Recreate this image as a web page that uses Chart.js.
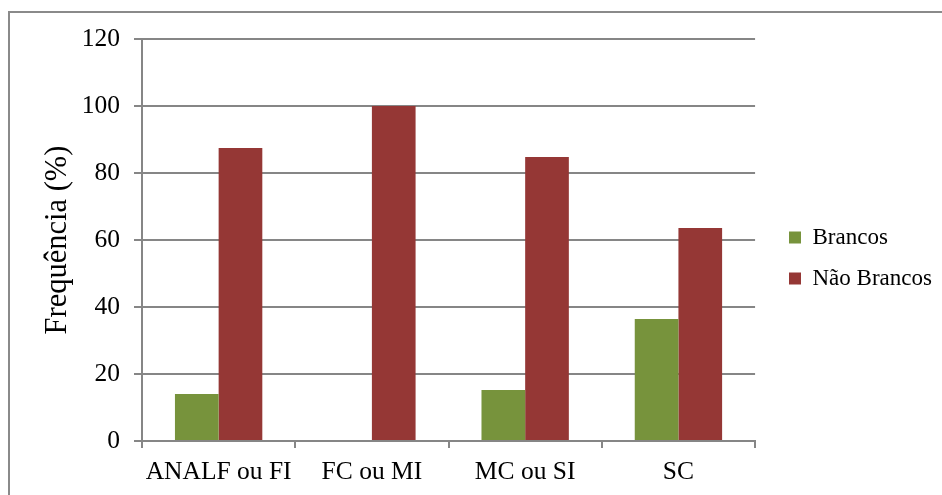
<!DOCTYPE html>
<html>
<head>
<meta charset="utf-8">
<script src="https://cdn.jsdelivr.net/npm/chart.js@4"></script>
<style>
  html, body { margin: 0; padding: 0; background: #fff; overflow: hidden; }
  #wrap { position: relative; width: 942px; height: 495px; }
  #frame { position: absolute; left: 8px; top: 11px; width: 960px; height: 520px; border: 2px solid #8a8a8a; box-sizing: border-box; }
  canvas { position: absolute; left: 0; top: 0; }
</style>
</head>
<body>
<div id="wrap">
  <div id="frame"></div>
  <canvas id="chart" width="942" height="495"></canvas>
</div>
<script>
const categories = ['ANALF ou FI', 'FC ou MI', 'MC ou SI', 'SC'];
const brancos = [14.0, 0, 15.2, 36.4];
const naoBrancos = [87.5, 100, 84.8, 63.6];
const yTicks = [0, 20, 40, 60, 80, 100, 120];

const gridGray = '#868686';
const fontFamily = "'Liberation Serif', 'Times New Roman', serif";
const padLeft = 40;

// move the legend to where Excel put it
const legendShift = {
  id: 'legendShift',
  afterLayout(chart) {
    const lg = chart.legend;
    const dx = 789 - (lg.left + lg.options.labels.padding);
    const dy = -4;
    lg.left += dx;
    lg.right += dx;
    lg.top += dy;
    lg.bottom += dy;
  }
};

const ctx = document.getElementById('chart').getContext('2d');
const chart = new Chart(ctx, {
  type: 'bar',
  data: {
    labels: categories,
    datasets: [
      { label: 'Brancos', data: brancos, backgroundColor: '#77933C' },
      { label: 'Não Brancos', data: naoBrancos, backgroundColor: '#953735' }
    ]
  },
  options: {
    responsive: false,
    animation: false,
    layout: { padding: { left: padLeft, top: 39, right: 16, bottom: 10 } },
    datasets: {
      bar: { categoryPercentage: 0.57, barPercentage: 1.0 }
    },
    scales: {
      x: {
        grid: { drawOnChartArea: false, drawTicks: true, tickLength: 7, color: gridGray, lineWidth: 2 },
        border: { color: gridGray, width: 2 },
        ticks: { color: '#000', font: { family: fontFamily, size: 25.5 }, padding: 9 },
        afterFit(scale) { scale.height = 495 - 441 - 10; }
      },
      y: {
        min: 0,
        max: 120,
        afterBuildTicks(scale) { scale.ticks = yTicks.map(v => ({ value: v })); },
        grid: { color: gridGray, lineWidth: 2, tickLength: 8 },
        border: { color: gridGray, width: 2 },
        ticks: { color: '#000', font: { family: fontFamily, size: 25.5 }, padding: 14 },
        title: {
          display: true,
          text: 'Frequência (%)',
          color: '#000',
          font: { family: fontFamily, size: 30.5 },
          padding: { top: 0, bottom: 4 }
        },
        afterFit(scale) { scale.width = 142 - padLeft; }
      }
    },
    plugins: {
      legend: {
        position: 'right',
        align: 'center',
        labels: {
          color: '#000',
          font: { family: fontFamily, size: 23 },
          boxWidth: 12,
          boxHeight: 12,
          padding: 18
        }
      },
      tooltip: { enabled: false }
    }
  },
  plugins: [legendShift]
});
</script>
</body>
</html>
